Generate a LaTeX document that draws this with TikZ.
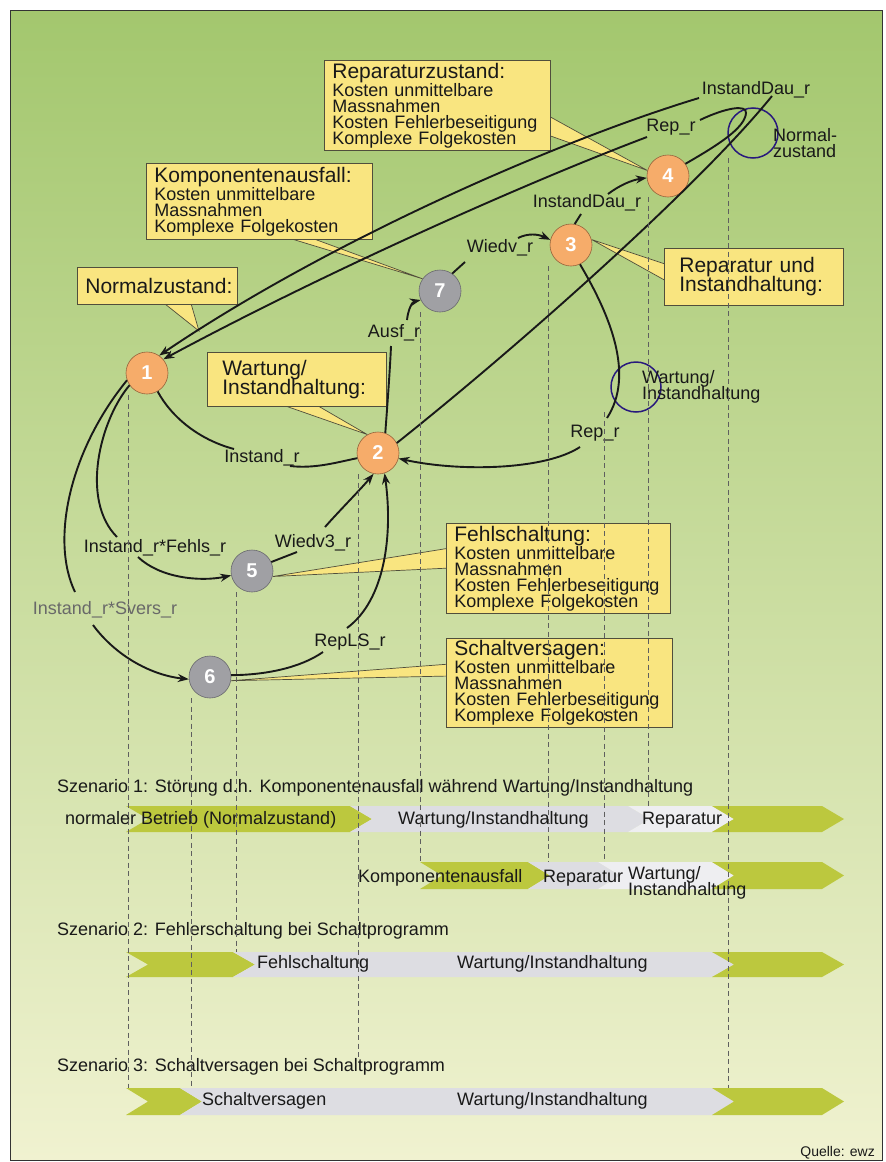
\documentclass[tikz,border=0pt]{standalone}
\usepackage{fontspec}
\setmainfont{Liberation Sans}
\usetikzlibrary{arrows.meta}
\definecolor{bgtop}{RGB}{163,199,110}
\definecolor{bgmid}{RGB}{203,223,162}
\definecolor{bgbot}{RGB}{240,242,208}
\definecolor{cfill}{RGB}{249,229,128}
\definecolor{cborder}{RGB}{80,78,60}
\definecolor{orangefill}{RGB}{246,172,106}
\definecolor{orangeline}{RGB}{150,100,60}
\definecolor{grayfill}{RGB}{160,160,164}
\definecolor{grayline}{RGB}{105,105,110}
\definecolor{ringblue}{RGB}{40,25,125}
\definecolor{bargreen}{RGB}{188,200,62}
\definecolor{bargray}{RGB}{221,221,226}
\definecolor{barlight}{RGB}{238,238,241}
\definecolor{dashgray}{RGB}{95,95,95}
\definecolor{txt}{RGB}{25,25,25}
\definecolor{lbgray}{RGB}{105,105,105}
\pgfdeclarelayer{back}
\pgfdeclarelayer{wedge}
\pgfsetlayers{back,wedge,main}
\newcommand{\chevseg}[5]{\fill[#5] (#1,#3) -- (#2,#3) -- ({#2+22},{#3+#4/2}) -- (#2,{#3+#4}) -- (#1,{#3+#4}) -- ({#1+22},{#3+#4/2}) -- cycle;}
\newcommand{\lblfont}{\fontsize{18}{16}\selectfont\lineskiplimit=-30pt }
\newcommand{\ttlfont}{\fontsize{21}{19}\selectfont\lineskiplimit=-30pt }
\newcommand{\bodyfont}{\fontsize{18}{16}\selectfont\lineskiplimit=-30pt }
\begin{document}
\begin{tikzpicture}[x=1pt,y=-1pt,
  lbl/.style={inner sep=0pt, font=\lblfont, text=txt, align=left},
  callout/.style={draw=cborder, fill=cfill, line width=0.7pt, align=left, anchor=north west, inner xsep=8pt, inner ysep=0pt, font=\bodyfont, text=txt},
  wedgefill/.style={fill=cfill, draw=cborder, line width=0.7pt},
  onode/.style={circle, minimum size=42pt, inner sep=0pt, fill=orangefill, draw=orangeline, line width=0.6pt, text=white, font=\fontsize{20}{20}\selectfont\bfseries},
  gnode/.style={onode, fill=grayfill, draw=grayline},
  ring/.style={circle, minimum size=50pt, inner sep=0pt, draw=ringblue, line width=1.5pt},
  conn/.style={draw=txt, line width=1.9pt},
  conna/.style={conn, -{Stealth[length=11pt,width=8pt]}},
  guide/.style={draw=dashgray, line width=0.7pt, dash pattern=on 5pt off 3.5pt},
  bartext/.style={inner sep=0pt, anchor=west, font=\lblfont, text=txt, align=left}]
\useasboundingbox (0,0) rectangle (886,1162);
\begin{pgfonlayer}{back}
\fill[white] (0,0) rectangle (886,1162);
\shade[top color=bgtop, middle color=bgmid, bottom color=bgbot] (10,10) rectangle (882,1160);
\draw[line width=1pt, black!80] (10,10) rectangle (882,1160);
\end{pgfonlayer}

% callouts
\node[callout, text width=210pt, minimum height=90pt] (cRep) at (324,60) {{\ttlfont Reparaturzustand:}\\[2pt]Kosten unmittelbare\\Massnahmen\\Kosten Fehlerbeseitigung\\Komplexe Folgekosten};
\node[callout, text width=210pt, minimum height=76pt] (cKomp) at (146,163) {{\ttlfont Komponentenausfall:}\\[2pt]Kosten unmittelbare\\Massnahmen\\Komplexe Folgekosten};
\node[callout, text width=144pt, minimum height=37pt, font=\ttlfont] (cNorm) at (77,267) {Normalzustand:};
\node[callout, inner xsep=15pt, text width=149pt, minimum height=57pt, font=\ttlfont] (cRI) at (664,248) {Reparatur und\\Instandhaltung:};
\node[callout, inner xsep=15pt, text width=149pt, minimum height=54pt, font=\ttlfont] (cWI) at (207,352) {Wartung/\\Instandhaltung:};
\node[callout, text width=208pt, minimum height=90pt] (cFehl) at (446,523) {{\ttlfont Fehlschaltung:}\\[2pt]Kosten unmittelbare\\Massnahmen\\Kosten Fehlerbeseitigung\\Komplexe Folgekosten};
\node[callout, text width=210pt, minimum height=89pt] (cSchalt) at (446,638) {{\ttlfont Schaltversagen:}\\[2pt]Kosten unmittelbare\\Massnahmen\\Kosten Fehlerbeseitigung\\Komplexe Folgekosten};

% state nodes
\node[onode] (n1) at (147,373) {1};
\node[onode] (n2) at (378,453) {2};
\node[onode] (n3) at (571,245) {3};
\node[onode] (n4) at (668,176) {4};
\node[gnode] (n5) at (252,571) {5};
\node[gnode] (n6) at (210,677) {6};
\node[gnode] (n7) at (440,291) {7};
\node[ring] (rN) at (753,133) {};
\node[ring] (rW) at (636,387) {};

% labels
\node[lbl] (lIDtop) at (756,90) {InstandDau\_r};
\node[lbl] (lReptop) at (671,127) {Rep\_r};
\node[lbl, anchor=west] (lNorm) at (773,143) {Normal-\\zustand};
\node[lbl] (lIDlow) at (587,203) {InstandDau\_r};
\node[lbl] (lWiedv) at (500,248) {Wiedv\_r};
\node[lbl] (lAusf) at (394,333) {Ausf\_r};
\node[lbl] (lInstand) at (262,458) {Instand\_r};
\node[lbl] (lReplow) at (595,433) {Rep\_r};
\node[lbl, anchor=west] (lWart) at (642,387) {Wartung/\\Instandhaltung};
\node[lbl] (lFehls) at (155,548) {Instand\_r*Fehls\_r};
\node[lbl] (lWiedv3) at (313,543) {Wiedv3\_r};
\node[lbl, text=lbgray] (lSvers) at (105,610) {Instand\_r*Svers\_r};
\node[lbl] (lRepLS) at (350,642) {RepLS\_r};

% attachment points at labels
\coordinate (f1a) at (234,449); \coordinate (f1b) at (290,466);
\coordinate (f2a) at (391,346); \coordinate (f2b) at (407,320);
\coordinate (f3a) at (465,262); \coordinate (f3b) at (518,238);
\coordinate (f4a) at (581,214); \coordinate (f4b) at (608,194);
\coordinate (f5a) at (700,120); \coordinate (f5b) at (647,137);
\coordinate (f6a) at (772,96);  \coordinate (f6b) at (699,98);
\coordinate (f7a) at (607,418); \coordinate (f7b) at (580,447);
\coordinate (f8a) at (117,537); \coordinate (f8b) at (138,557);
\coordinate (f9a) at (297,552); \coordinate (f9b) at (325,527);
\coordinate (f10a) at (75,592); \coordinate (f10b) at (93,625);
\coordinate (f11a) at (323,652); \coordinate (f11b) at (347,628);
\coordinate (tipN) at (199,331);

% wedges
\begin{pgfonlayer}{wedge}
\draw[wedgefill] (545,114) -- (n4.165) -- (545,134) -- cycle;
\draw[wedgefill] (282,236) -- (n7.145) -- (306,236) -- cycle;
\draw[wedgefill] (160,300) -- (tipN) -- (190,300) -- cycle;
\draw[wedgefill] (668,265) -- (n3.15) -- (668,282) -- cycle;
\draw[wedgefill] (277,403) -- (n2.120) -- (313,403) -- cycle;
\draw[wedgefill] (450,548) -- (n5.-15) -- (450,568) -- cycle;
\draw[wedgefill] (450,664) -- (n6.-10) -- (450,676) -- cycle;
\end{pgfonlayer}

% connectors
\draw[conn] (n1.-60) .. controls (172,418) and (200,440) .. (f1a);
\draw[conn] (f1b) .. controls (315,469) and (338,462) .. (n2.194);
\draw[conn] (n2.70) .. controls (387,410) and (390,370) .. (f2a);
\draw[conna] (f2b) .. controls (408,310) and (412,302) .. (n7.205);
\draw[conn] (n7.55) -- (f3a);
\draw[conna] (f3b) .. controls (528,233) and (538,234) .. (n3.166);
\draw[conn] (n3.80) -- (f4a);
\draw[conna] (f4b) .. controls (620,185) and (632,180) .. (n4.185);
\draw[conn] (n4.35) .. controls (718,145) and (745,128) .. (746,113) .. controls (747,104) and (725,108) .. (f5a);
\draw[conna] (f5b) .. controls (520,185) and (320,275) .. (n1.40);
\draw[conn] (n2.28) .. controls (520,345) and (700,185) .. (f6a);
\draw[conna] (f6b) .. controls (560,140) and (330,240) .. (n1.55);
\draw[conn] (n3.-65) .. controls (610,315) and (635,375) .. (f7a);
\draw[conna] (f7b) .. controls (545,470) and (460,472) .. (n2.-15);
\draw[conn] (n1.215) .. controls (100,420) and (80,500) .. (f8a);
\draw[conna] (f8b) .. controls (160,578) and (200,582) .. (n5.192);
\draw[conn] (n5.25) -- (f9a);
\draw[conna] (f9b) .. controls (340,510) and (360,490) .. (n2.-102);
\draw[conn] (n1.200) .. controls (70,450) and (50,540) .. (f10a);
\draw[conna] (f10b) .. controls (115,655) and (150,675) .. (n6.186);
\draw[conn] (n6.5) .. controls (265,675) and (300,668) .. (f11a);
\draw[conna] (f11b) .. controls (385,600) and (393,535) .. (n2.-72);

% scenario bars
\node[bartext] (s1) at (57,788) {Szenario 1: Störung d.h. Komponentenausfall während Wartung/Instandhaltung};
\chevseg{126}{350}{806}{26}{bargreen}
\chevseg{350}{628}{806}{26}{bargray}
\chevseg{628}{712}{806}{26}{barlight}
\chevseg{712}{822}{806}{26}{bargreen}
\node[bartext] (b1a) at (65,820) {normaler Betrieb (Normalzustand)};
\node[bartext] (b1b) at (398,820) {Wartung/Instandhaltung};
\node[bartext] (b1c) at (642,820) {Reparatur};
\chevseg{420}{528}{862}{27}{bargreen}
\chevseg{528}{598}{862}{27}{bargray}
\chevseg{598}{712}{862}{27}{barlight}
\chevseg{712}{822}{862}{27}{bargreen}
\node[bartext] (b2a) at (358,878) {Komponentenausfall};
\node[bartext] (b2b) at (543,878) {Reparatur};
\node[bartext, anchor=north west] (b2c) at (628,866) {Wartung/\\Instandhaltung};
\node[bartext] (s2) at (57,931) {Szenario 2: Fehlerschaltung bei Schaltprogramm};
\chevseg{126}{233}{952}{25}{bargreen}
\chevseg{233}{712}{952}{25}{bargray}
\chevseg{712}{822}{952}{25}{bargreen}
\node[bartext] (b3a) at (257,964) {Fehlschaltung};
\node[bartext] (b3b) at (457,964) {Wartung/Instandhaltung};
\node[bartext] (s3) at (57,1067) {Szenario 3: Schaltversagen bei Schaltprogramm};
\chevseg{126}{180}{1088}{27}{bargreen}
\chevseg{180}{712}{1088}{27}{bargray}
\chevseg{712}{822}{1088}{27}{bargreen}
\node[bartext] (b4a) at (202,1101) {Schaltversagen};
\node[bartext] (b4b) at (457,1101) {Wartung/Instandhaltung};
\node[inner sep=0pt, anchor=east, font=\fontsize{14}{14}\selectfont, text=txt] (src) at (875,1153) {Quelle: ewz};

% dashed guides
\draw[guide] (128,395) -- (128,1088);
\draw[guide] (191,698) -- (191,1088);
\draw[guide] (236,592) -- (236,952);
\draw[guide] (358,474) -- (358,1057);
\draw[guide] (420,312) -- (420,862);
\draw[guide] (548,266) -- (548,862);
\draw[guide] (604,412) -- (604,862);
\draw[guide] (648,197) -- (648,806);
\draw[guide] (728,158) -- (728,1088);
\end{tikzpicture}
\end{document}
